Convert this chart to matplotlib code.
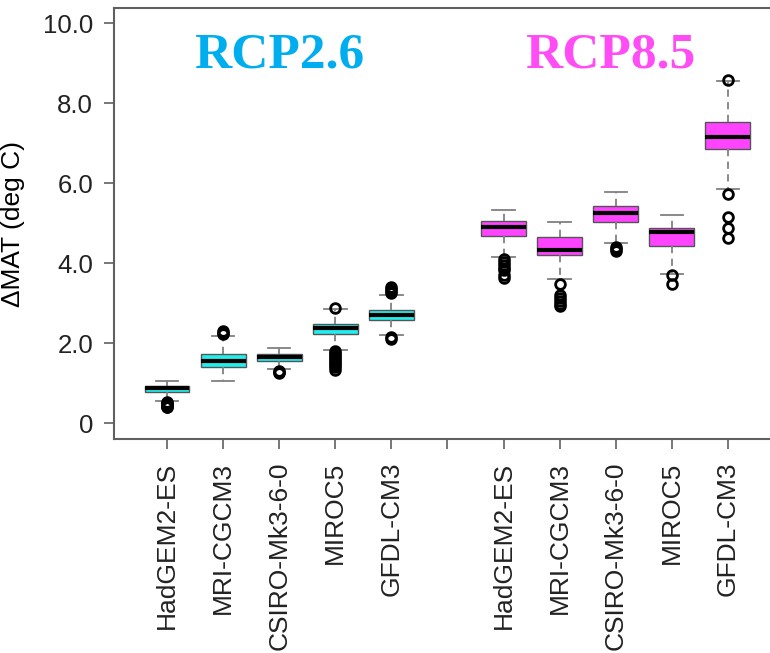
import matplotlib.pyplot as plt

# modelos y escenarios
models = ["HadGEM2-ES", "MRI-CGCM3", "CSIRO-Mk3-6-0", "MIROC5", "GFDL-CM3"]
pos_26 = [1, 2, 3, 4, 5]
pos_85 = [7, 8, 9, 10, 11]

# estadisticos (deg C)
rcp26_whislo = [0.55, 1.05, 1.35, 1.82, 2.20]
rcp26_q1 = [0.78, 1.40, 1.56, 2.22, 2.57]
rcp26_med = [0.87, 1.55, 1.66, 2.37, 2.70]
rcp26_q3 = [0.93, 1.72, 1.72, 2.47, 2.82]
rcp26_whishi = [1.06, 2.17, 1.88, 2.85, 3.20]
rcp26_fliers = [
    [0.52, 0.49, 0.47, 0.45, 0.43, 0.41, 0.39],
    [2.22, 2.26, 2.30],
    [1.31, 1.28, 1.25],
    [2.87, 1.80, 1.75, 1.70, 1.65, 1.60, 1.55, 1.50, 1.45, 1.40, 1.33],
    [3.25, 3.30, 3.35, 3.40, 2.15, 2.10],
]

rcp85_whislo = [4.15, 3.60, 4.50, 3.73, 5.84]
rcp85_q1 = [4.68, 4.20, 5.03, 4.43, 6.84]
rcp85_med = [4.90, 4.32, 5.25, 4.77, 7.14]
rcp85_q3 = [5.05, 4.64, 5.43, 4.88, 7.52]
rcp85_whishi = [5.33, 5.02, 5.78, 5.20, 8.56]
rcp85_fliers = [
    [4.10, 4.02, 3.95, 3.88, 3.82, 3.70, 3.62],
    [3.47, 3.20, 3.12, 3.05, 2.98, 2.92],
    [4.40, 4.35, 4.30],
    [3.70, 3.47],
    [8.57, 5.72, 5.14, 4.87, 4.62],
]

yticks = [0, 2, 4, 6, 8, 10]
ytick_labels = ["0", "2.0", "4.0", "6.0", "8.0", "10.0"]


def make_stats(lo, q1, med, q3, hi, fl):
    return [dict(whislo=a, q1=b, med=c, q3=d, whishi=e, fliers=f)
            for a, b, c, d, e, f in zip(lo, q1, med, q3, hi, fl)]


stats26 = make_stats(rcp26_whislo, rcp26_q1, rcp26_med, rcp26_q3, rcp26_whishi, rcp26_fliers)
stats85 = make_stats(rcp85_whislo, rcp85_q1, rcp85_med, rcp85_q3, rcp85_whishi, rcp85_fliers)

fig = plt.figure(figsize=(7.7, 6.53), dpi=100)
ax = fig.add_axes([114 / 770, 0.3277, 1 - 114 / 770, 0.66])

estilo = dict(
    widths=0.8,
    capwidths=0.4,
    patch_artist=True,
    boxprops=dict(edgecolor="#555555", linewidth=1.0),
    medianprops=dict(color="black", linewidth=3),
    whiskerprops=dict(color="#808080", linestyle=(0, (4, 3)), linewidth=1.3),
    capprops=dict(color="#808080", linewidth=1.3),
    flierprops=dict(marker="o", markerfacecolor="none", markeredgecolor="black",
                    markersize=7, markeredgewidth=2),
)

b1 = ax.bxp(stats26, positions=pos_26, **estilo)
b2 = ax.bxp(stats85, positions=pos_85, **estilo)
for p in b1["boxes"]:
    p.set_facecolor("#22EEEE")
for p in b2["boxes"]:
    p.set_facecolor("#FF44FF")

# titulos de escenario
ax.text(3, 9.2, "RCP2.6", color="#00AEEF", fontsize=37, fontweight="bold",
        family="Liberation Serif", ha="center", va="center")
ax.text(8.9, 9.2, "RCP8.5", color="#FF4CF5", fontsize=37, fontweight="bold",
        family="Liberation Serif", ha="center", va="center")

ax.set_xlim(0.055, 11.75)
ax.set_ylim(-0.4, 10.375)
ax.set_xticks(pos_26 + [6] + pos_85)
ax.set_xticklabels(models + [""] + models, rotation=90, fontsize=19,
                   family="Liberation Sans")
ax.set_yticks(yticks)
ax.set_yticklabels(ytick_labels, fontsize=18.5, family="Liberation Sans")
ax.set_ylabel("ΔMAT (deg C)", fontsize=19, family="Liberation Sans")
ax.yaxis.set_label_coords(-0.136, 0.5)

ax.tick_params(axis="y", length=7, width=1.2, pad=8, colors="#222222")
ax.tick_params(axis="x", length=7, width=1.2, pad=9.5, colors="#222222")
ax.tick_params(axis="both", color="#606060")
for s in ["left", "top", "bottom"]:
    ax.spines[s].set_color("#606060")
    ax.spines[s].set_linewidth(1.5)
ax.spines["right"].set_visible(False)

plt.savefig("out.png", dpi=100)
